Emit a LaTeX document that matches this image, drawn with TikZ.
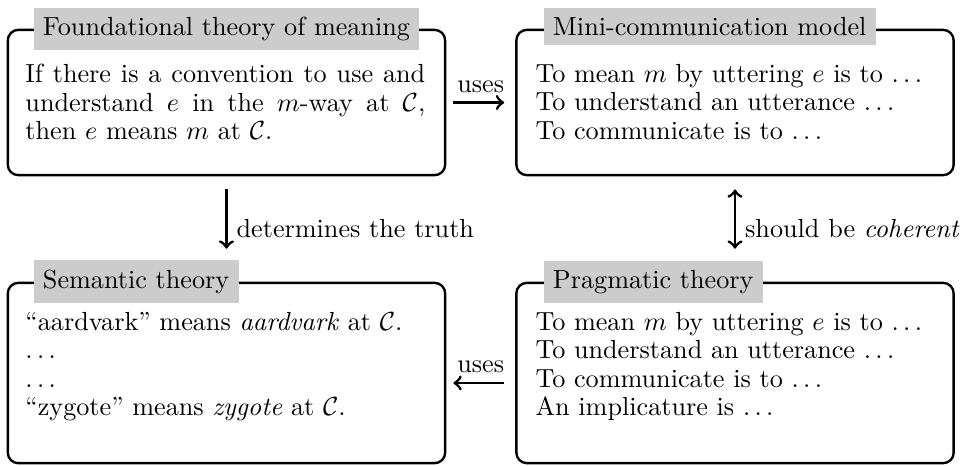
\documentclass[tikz,border=0pt]{standalone}
\usepackage{amssymb}
\usepackage{amsmath}
\usepackage{tikz}

\tikzset{
	box/.style={draw, line width=0.9pt, rounded corners=4pt, minimum width=5.87cm},
	title/.style={fill=gray!40, inner sep=3.6pt, anchor=base west},
	body/.style={inner sep=0pt, anchor=north west, align=left},
	link/.style={->, line width=1.1pt},
}

\begin{document}
\begin{tikzpicture}[font=\fontsize{10pt}{10.8pt}\selectfont]
	\useasboundingbox (0,0) rectangle (12.98,6.255);

	% Boxes start here
	\node (F) at (3.04,4.879) [box, minimum height=1.95cm] {};
	\node (M) at (9.866,4.879) [box, minimum height=1.95cm] {};
	\node (S) at (3.04,1.248) [box, minimum height=2.42cm] {};
	\node (P) at (9.866,1.248) [box, minimum height=2.42cm] {};

	% Titles start here
	\node (Ftitle) at (0.443,5.78) [title] {Foundational theory of meaning};
	\node (Mtitle) at (7.289,5.78) [title] {Mini-communication model};
	\node (Stitle) at (0.443,2.386) [title] {Semantic theory};
	\node (Ptitle) at (7.289,2.386) [title] {Pragmatic theory};

	% Texts start here
	\node (Ftext) at (0.335,5.398) [body, text width=152.7pt, align=justify]
		{If there is a convention to use and understand $e$ in the $m$-way at $\mathcal{C}$, then $e$ means $m$ at $\mathcal{C}$.};
	\node (Mtext) at (7.181,5.398) [body]
		{To mean $m$ by uttering $e$ is to $\ldots$\\ To understand an utterance $\ldots$\\ To communicate is to $\ldots$};
	\node (Stext) at (0.335,2.07) [body]
		{“aardvark” means \emph{aardvark} at $\mathcal{C}$.\\ $\ldots$\\ $\ldots$\\ “zygote” means \emph{zygote} at $\mathcal{C}$.};
	\node (Ptext) at (7.181,2.07) [body]
		{To mean $m$ by uttering $e$ is to $\ldots$\\ To understand an utterance $\ldots$\\ To communicate is to $\ldots$\\ An implicature is $\ldots$};

	% Lines start here
	\draw[link, shorten <=2.7pt, shorten >=4.2pt] (F) to node[above] {uses} (M);
	\draw[link, shorten <=5pt, shorten >=12.6pt] (F) to node[right] {determines the truth} (S);
	\draw[link, <->, shorten <=5pt, shorten >=12.6pt] (M) to node[right] {should be \emph{coherent}} (P);
	\draw[link, shorten <=4.2pt, shorten >=2.7pt] ([yshift=-0.134cm]P.west) to node[above] {uses} ([yshift=-0.134cm]S.east);

\end{tikzpicture}
\end{document}
